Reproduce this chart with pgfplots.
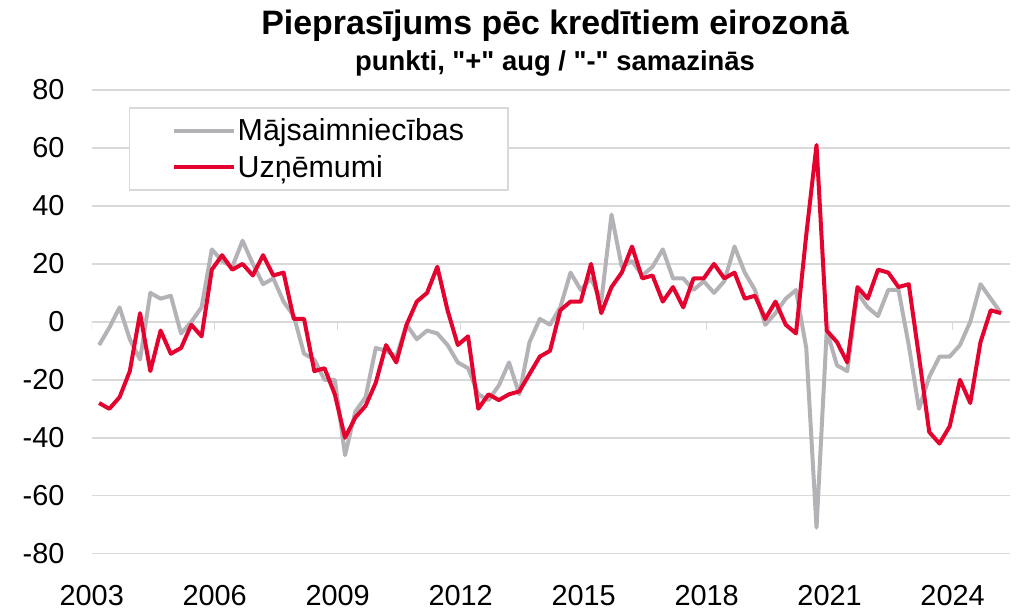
\documentclass[border=0pt]{standalone}
\usepackage{fontspec}
\setmainfont{Liberation Sans}
\newfontfamily\plainsans{Liberation Sans}
\usepackage{pgfplots}
\usepackage{pgfplotstable}
\pgfplotsset{compat=1.18}
\definecolor{hhgrey}{HTML}{B4B2B6}
\definecolor{nfcred}{HTML}{E4032E}
\definecolor{gridgrey}{HTML}{D9D9D9}

\pgfplotstableread{
i hh nfc
0 -8 -28
1 -2 -30
2 5 -26
3 -6 -17
4 -13 3
5 10 -17
6 8 -3
7 9 -11
8 -4 -9
9 0 -1
10 5 -5
11 25 18
12 21 23
13 19 18
14 28 20
15 20 16
16 13 23
17 15 16
18 7 17
19 2 1
20 -11 1
21 -13 -17
22 -20 -16
23 -20 -25
24 -46 -40
25 -31 -33
26 -26 -29
27 -9 -21
28 -10 -8
29 -12 -14
30 -1 -1
31 -6 7
32 -3 10
33 -4 19
34 -8 4
35 -14 -8
36 -16 -5
37 -25 -30
38 -27 -25
39 -22 -27
40 -14 -25
41 -25 -24
42 -7 -18
43 1 -12
44 -1 -10
45 5 4
46 17 7
47 11 7
48 15 20
49 7 3
50 37 12
51 19 17
52 21 26
53 16 15
54 19 16
55 25 7
56 15 12
57 15 5
58 11 15
59 14 15
60 10 20
61 14 15
62 26 17
63 17 8
64 11 9
65 -1 1
66 3 7
67 8 -1
68 11 -4
69 -9 30
70 -71 61
71 -3 -3
72 -15 -7
73 -17 -14
74 10 12
75 5 8
76 2 18
77 11 17
78 11 12
79 -8 13
80 -30 -12
81 -19 -38
82 -12 -42
83 -12 -36
84 -8 -20
85 0 -28
86 13 -7
87 8 4
88 3 3
}\data

\begin{document}
\begin{tikzpicture}
\useasboundingbox (-91.7bp,-58.3bp) rectangle (926.3bp,553.7bp);
\begin{axis}[
  at={(0,0)}, anchor=south west,
  scale only axis, width=918.3bp, height=463.7bp,
  xmin=2003, xmax=2025.4, ymin=-80, ymax=80,
  axis line style={draw=none},
  tick style={draw=none},
  xtick={2003,2006,2009,2012,2015,2018,2021,2024},
  xticklabels={2003,2006,2009,2012,2015,2018,2021,2024},
  ytick={-80,-60,-40,-20,0,20,40,60,80},
  yticklabels={-80,-60,-40,-20,0,20,40,60,80},
  ymajorgrids,
  grid style={gridgrey, line width=1.5bp},
  tick label style={font=\fontsize{29}{31}\selectfont},
  xticklabel style={anchor=north, inner sep=0pt, yshift=-31bp},
  yticklabel style={anchor=east, inner sep=0pt, xshift=-27bp},
  legend style={at={(0.0406,0.9633)}, anchor=north west, draw=gridgrey, line width=1.5bp,
    font=\fontsize{30.5}{33}\selectfont, inner xsep=42bp, inner ysep=9bp, row sep=9bp,
    nodes={inner sep=2bp}},
  legend cell align=left,
  legend image code/.code={\draw[#1] (0bp,0bp) -- (60bp,0bp);},
]
\pgfplotsinvokeforeach{2003,2006,2009,2012,2015,2018,2021,2024}{
  \draw[gridgrey, line width=1.5bp] (axis cs:#1,0) -- ([yshift=-8bp]axis cs:#1,0);
}
\addplot[hhgrey, line width=4bp, line join=round] table[x expr=2003.18+0.25*\thisrow{i}, y=hh] {\data};
\addlegendentry{Mājsaimniecības}
\addplot[nfcred, line width=4bp, line join=round] table[x expr=2003.18+0.25*\thisrow{i}, y=nfc] {\data};
\addlegendentry{Uzņēmumi}
\end{axis}
\node[anchor=base, font=\bfseries\fontsize{34}{37}\selectfont] at (463.3bp,518.7bp) {Pieprasījums pēc kredītiem eirozonā};
\node[anchor=base, font=\plainsans\bfseries\fontsize{27.5}{30}\selectfont] at (463.3bp,482.7bp) {punkti, "+" aug / "-" samazinās};
\end{tikzpicture}
\end{document}
